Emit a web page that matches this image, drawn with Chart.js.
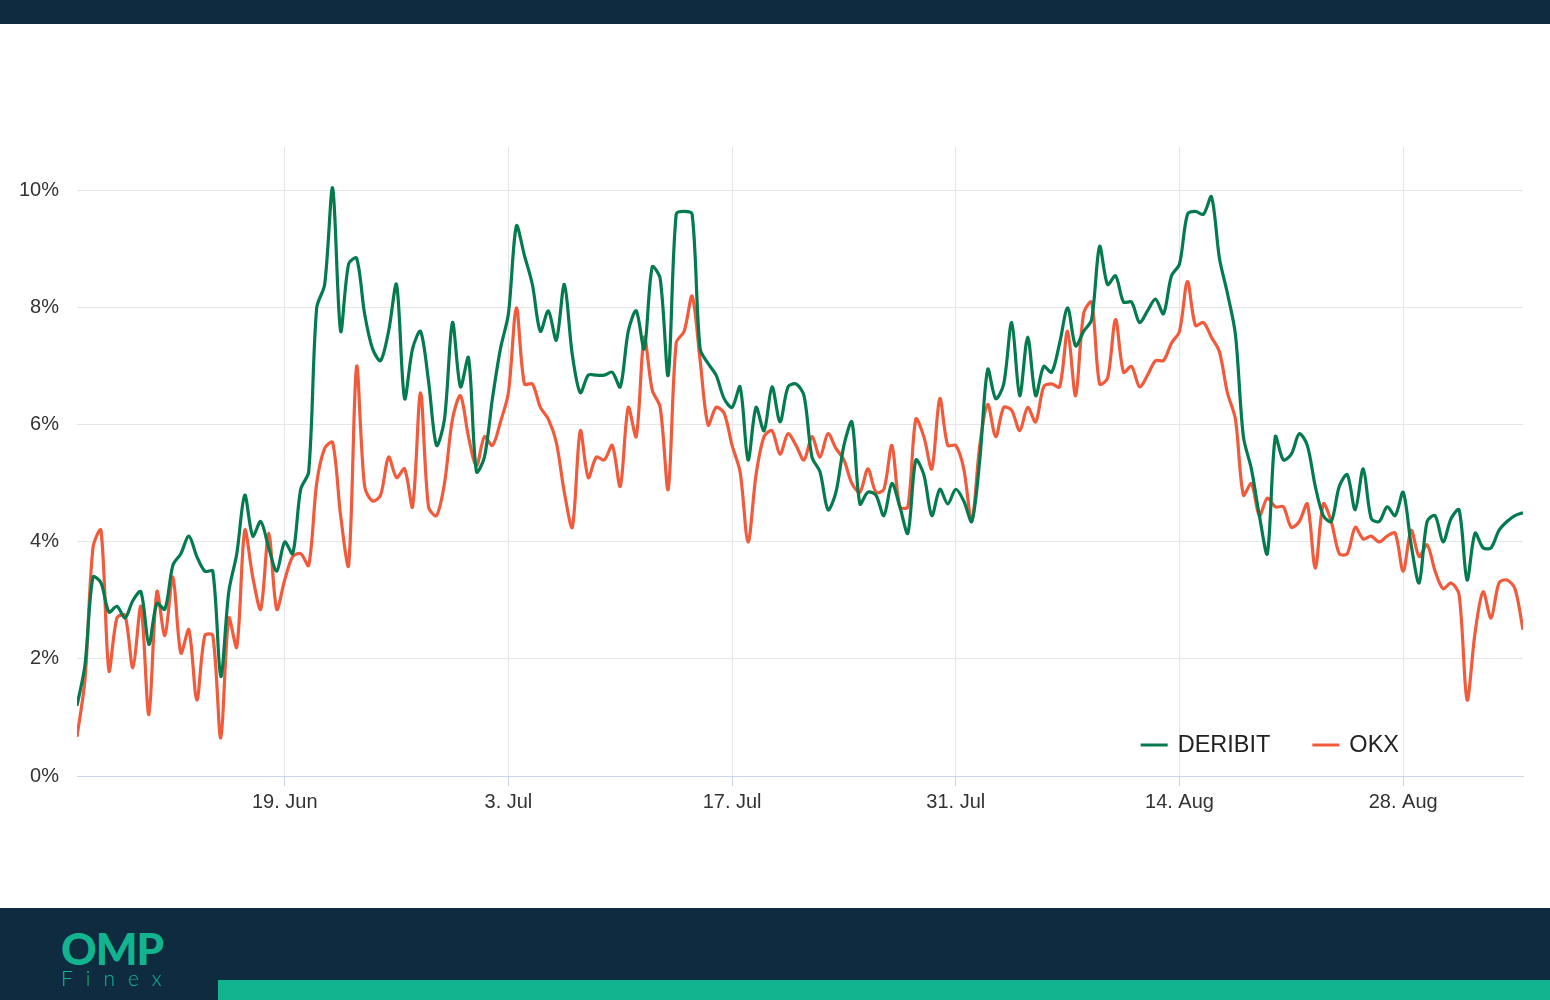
<!DOCTYPE html>
<html>
<head>
<meta charset="utf-8">
<script src="https://cdn.jsdelivr.net/npm/chart.js@4.4.1/dist/chart.umd.min.js"></script>
<style>
html, body { margin: 0; padding: 0; width: 1550px; height: 1000px; overflow: hidden; background: #fff; }
.topbar { position: absolute; left: 0; top: 0; width: 1550px; height: 24px; background: #0f2b40; }
.wrap { position: absolute; left: 0; top: 24px; width: 1550px; height: 884px; }
.footer { position: absolute; left: 0; top: 908px; width: 1550px; height: 92px; background: #0f2b40; }
.strip { position: absolute; left: 218px; top: 72px; width: 1332px; height: 20px; background: #12b48f; }
.logo { position: absolute; left: 61px; top: 20px; color: #12b48f; }
.logo .omp { font-family: Lato, sans-serif; font-weight: 900; font-size: 44px; line-height: 40px; letter-spacing: -1px; }
.logo .finex { font-family: Lato, sans-serif; font-weight: 300; font-size: 21px; line-height: 22px; letter-spacing: 13px; margin-top: -1px; }
</style>
</head>
<body>
<div class="topbar"></div>
<div class="wrap"><canvas id="fundingChart"></canvas></div>
<div class="footer">
  <div class="logo"><div class="omp">OMP</div><div class="finex">Finex</div></div>
  <div class="strip"></div>
</div>
<script>
// one point every 12 hours, day 0 = 6 Jun
var stepDays = 0.5;
var tickDays = [13, 27, 41, 55, 69, 83];
var tickLabels = ['19. Jun', '3. Jul', '17. Jul', '31. Jul', '14. Aug', '28. Aug'];
var yTicks = [0, 2, 4, 6, 8, 10];

var deribit = [
	1.2, 1.9, 3.4, 3.3, 2.8, 2.9, 2.7, 3.0, 3.15, 2.25,
	2.95, 2.85, 3.6, 3.8, 4.1, 3.75, 3.5, 3.5, 1.7, 3.15,
	3.8, 4.8, 4.1, 4.35, 3.9, 3.5, 4.0, 3.8, 4.9, 5.2,
	8.0, 8.4, 10.05, 7.6, 8.75, 8.85, 7.9, 7.3, 7.1, 7.6,
	8.4, 6.45, 7.3, 7.6, 6.75, 5.65, 6.1, 7.75, 6.65, 7.15,
	5.2, 5.45, 6.45, 7.3, 7.9, 9.4, 8.9, 8.4, 7.6, 7.95,
	7.45, 8.4, 7.2, 6.55, 6.85, 6.85, 6.85, 6.9, 6.65, 7.6,
	7.95, 7.3, 8.7, 8.5, 6.85, 9.6, 9.65, 9.6, 7.3, 7.05,
	6.85, 6.45, 6.3, 6.65, 5.4, 6.3, 5.9, 6.65, 6.05, 6.65,
	6.7, 6.5, 5.45, 5.2, 4.55, 4.85, 5.65, 6.05, 4.65, 4.85,
	4.8, 4.45, 5.0, 4.6, 4.15, 5.4, 5.15, 4.45, 4.9, 4.65,
	4.9, 4.7, 4.35, 5.4, 6.95, 6.45, 6.7, 7.75, 6.5, 7.5,
	6.5, 7.0, 6.9, 7.4, 8.0, 7.35, 7.6, 7.8, 9.05, 8.4,
	8.55, 8.1, 8.1, 7.75, 7.95, 8.15, 7.9, 8.55, 8.75, 9.6,
	9.65, 9.6, 9.9, 8.85, 8.25, 7.55, 5.8, 5.25, 4.45, 3.8,
	5.8, 5.4, 5.5, 5.85, 5.65, 4.95, 4.45, 4.35, 4.95, 5.15,
	4.55, 5.25, 4.4, 4.35, 4.6, 4.45, 4.85, 3.95, 3.3, 4.35,
	4.45, 4.0, 4.4, 4.55, 3.35, 4.15, 3.9, 3.9, 4.2, 4.35,
	4.45, 4.5
];

var okx = [
	0.67, 1.65, 3.9, 4.2, 1.8, 2.7, 2.75, 1.85, 2.9, 1.05,
	3.15, 2.4, 3.4, 2.1, 2.5, 1.3, 2.4, 2.4, 0.65, 2.7,
	2.2, 4.2, 3.4, 2.85, 4.15, 2.85, 3.35, 3.75, 3.8, 3.6,
	5.0, 5.6, 5.7, 4.45, 3.6, 7.0, 4.95, 4.7, 4.8, 5.45,
	5.1, 5.25, 4.6, 6.55, 4.6, 4.45, 5.0, 6.1, 6.5, 5.8,
	5.3, 5.8, 5.65, 6.05, 6.55, 8.0, 6.7, 6.7, 6.3, 6.1,
	5.7, 4.85, 4.25, 5.9, 5.1, 5.45, 5.4, 5.65, 4.95, 6.3,
	5.8, 7.5, 6.6, 6.3, 4.9, 7.4, 7.6, 8.2, 7.1, 6.0,
	6.3, 6.2, 5.65, 5.2, 4.0, 5.15, 5.8, 5.9, 5.5, 5.85,
	5.65, 5.4, 5.8, 5.45, 5.85, 5.6, 5.4, 5.0, 4.85, 5.25,
	4.85, 4.9, 5.65, 4.6, 4.6, 6.1, 5.8, 5.25, 6.45, 5.65,
	5.65, 5.25, 4.35, 5.65, 6.35, 5.8, 6.3, 6.25, 5.9, 6.3,
	6.05, 6.65, 6.7, 6.65, 7.6, 6.5, 7.9, 8.1, 6.7, 6.8,
	7.8, 6.9, 7.0, 6.65, 6.85, 7.1, 7.1, 7.4, 7.6, 8.45,
	7.7, 7.75, 7.5, 7.25, 6.55, 6.1, 4.8, 5.0, 4.45, 4.75,
	4.6, 4.6, 4.25, 4.35, 4.65, 3.55, 4.65, 4.35, 3.8, 3.8,
	4.25, 4.05, 4.1, 4.0, 4.1, 4.15, 3.5, 4.2, 3.75, 3.95,
	3.5, 3.2, 3.3, 3.1, 1.3, 2.45, 3.15, 2.7, 3.3, 3.35,
	3.2, 2.5
];

function toPoints(arr) {
	return arr.map(function (v, i) { return { x: i * stepDays, y: v }; });
}

var tickFont = { family: '"Liberation Sans", Arial, sans-serif', size: 20 };

// legend drawn inside the plot, bottom right
var insideLegend = {
	id: 'insideLegend',
	afterDraw: function (chart) {
		var ctx = chart.ctx;
		var area = chart.chartArea;
		ctx.save();
		ctx.font = '23.5px "Liberation Sans", Arial, sans-serif';
		ctx.textBaseline = 'middle';
		var items = chart.data.datasets.map(function (ds) {
			return { label: ds.label, color: ds.borderColor, w: ctx.measureText(ds.label).width };
		});
		var total = 0;
		items.forEach(function (it, i) { total += 27 + 10 + it.w + (i < items.length - 1 ? 42 : 0); });
		var x = area.right - 124 - total;
		var y = area.bottom - 31;
		items.forEach(function (it) {
			ctx.strokeStyle = it.color;
			ctx.lineWidth = 3;
			ctx.beginPath();
			ctx.moveTo(x, y);
			ctx.lineTo(x + 27, y);
			ctx.stroke();
			ctx.fillStyle = '#222';
			ctx.fillText(it.label, x + 37, y + 1);
			x += 27 + 10 + it.w + 42;
		});
		ctx.restore();
	}
};

var ctx = document.getElementById('fundingChart');
var myChart = new Chart(ctx, {
	type: 'line',
	data: {
		datasets: [{
			label: 'DERIBIT',
			data: toPoints(deribit),
			borderColor: '#047a4f',
			borderWidth: 3.2,
			pointRadius: 0,
			tension: 0.3
		}, {
			label: 'OKX',
			data: toPoints(okx),
			borderColor: '#f25a3c',
			borderWidth: 3.2,
			pointRadius: 0,
			tension: 0.3
		}]
	},
	options: {
		responsive: true,
		maintainAspectRatio: false,
		animation: false,
		layout: { padding: { left: 0, right: 27, top: 123, bottom: 92 } },
		plugins: {
			legend: { display: false },
			tooltip: { enabled: false }
		},
		scales: {
			x: {
				type: 'linear',
				min: 0,
				max: 90.5,
				afterBuildTicks: function (axis) {
					axis.ticks = tickDays.map(function (v) { return { value: v }; });
				},
				afterFit: function (axis) { axis.height = 40; },
				grid: { color: '#e6e6e6', tickColor: '#ccd6eb', tickLength: 10 },
				border: { display: true, color: '#ccd6eb', width: 1 },
				ticks: {
					autoSkip: false,
					maxRotation: 0,
					padding: 4,
					color: '#333',
					font: tickFont,
					callback: function (v, i) { return tickLabels[i]; }
				}
			},
			y: {
				min: 0,
				max: 10.75,
				afterBuildTicks: function (axis) {
					axis.ticks = yTicks.map(function (v) { return { value: v }; });
				},
				afterFit: function (axis) { axis.width = 77; },
				grid: {
					drawTicks: false,
					color: function (c) { return c.tick && c.tick.value === 0 ? '#ccd6eb' : '#e6e6e6'; }
				},
				border: { display: false },
				ticks: {
					padding: 18,
					color: '#333',
					font: tickFont,
					callback: function (v) { return v + '%'; }
				}
			}
		}
	},
	plugins: [insideLegend]
});
</script>
</body>
</html>
